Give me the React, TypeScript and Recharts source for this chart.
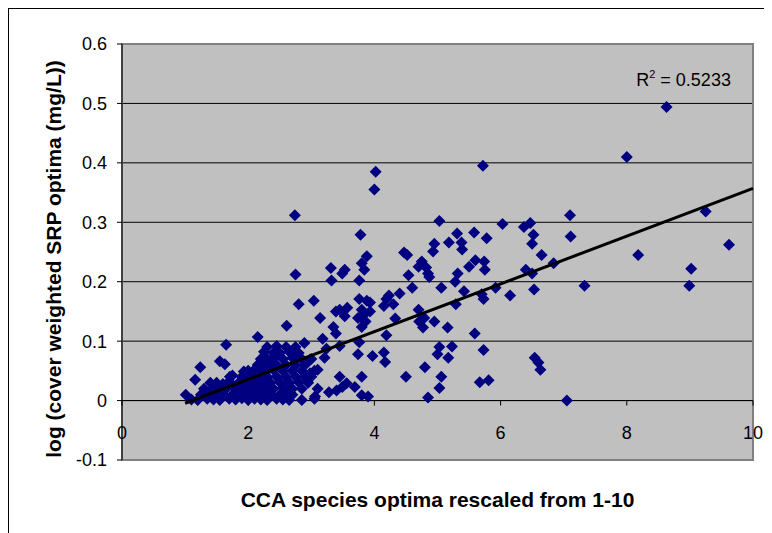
import {
  CartesianGrid,
  Label,
  ReferenceArea,
  ReferenceDot,
  ReferenceLine,
  Scatter,
  ScatterChart,
  XAxis,
  YAxis,
} from "recharts";

// [CCA optimum (1-10), log cover weighted SRP optimum]
const lowCluster: [number, number][] = [
  [1.01, 0.01], [1.1, 0.002], [1.16, 0.035], [1.2, 0.001], [1.24, 0.056], [1.25, 0.01],
  [1.3, 0.02], [1.35, 0.003], [1.4, 0.012], [1.4, 0.03], [1.45, 0.002], [1.45, 0.021],
  [1.5, 0.01], [1.5, 0.03], [1.55, 0.001], [1.55, 0.066], [1.55, 0.02], [1.6, 0.012],
  [1.6, 0.028], [1.63, 0.061], [1.65, 0.094], [1.65, 0.02], [1.7, 0.003], [1.7, 0.032],
  [1.71, 0.04], [1.75, 0.01], [1.75, 0.042], [1.8, 0.002], [1.8, 0.02], [1.85, 0.012],
  [1.85, 0.03], [1.9, 0.004], [1.9, 0.022], [1.9, 0.04], [1.93, 0.049], [1.95, 0.01],
  [1.95, 0.031], [2.0, 0.001], [2.0, 0.02], [2.0, 0.042], [2.0, 0.05], [2.05, 0.011],
  [2.05, 0.029], [2.1, 0.003], [2.1, 0.021], [2.1, 0.04], [2.1, 0.052], [2.15, 0.012],
  [2.15, 0.03], [2.15, 0.06], [2.15, 0.107], [2.2, 0.002], [2.2, 0.02], [2.2, 0.041],
  [2.2, 0.05], [2.2, 0.07], [2.25, 0.01], [2.25, 0.032], [2.25, 0.06], [2.25, 0.082],
  [2.3, 0.001], [2.3, 0.022], [2.3, 0.04], [2.3, 0.05], [2.3, 0.07], [2.3, 0.09],
  [2.35, 0.012], [2.35, 0.03], [2.35, 0.062], [2.4, 0.02], [2.4, 0.052], [2.4, 0.072],
  [2.4, 0.08], [2.45, 0.003], [2.45, 0.04], [2.45, 0.06], [2.45, 0.092], [2.5, 0.01],
  [2.5, 0.031], [2.5, 0.08], [2.55, 0.002], [2.55, 0.021], [2.55, 0.05], [2.55, 0.07],
  [2.6, 0.012], [2.6, 0.04], [2.6, 0.06], [2.6, 0.09], [2.61, 0.126], [2.65, 0.001],
  [2.65, 0.03], [2.65, 0.082], [2.7, 0.01], [2.7, 0.02], [2.7, 0.05], [2.7, 0.072],
  [2.75, 0.04], [2.75, 0.06], [2.75, 0.09], [2.8, 0.031], [2.8, 0.08], [2.85, 0.001],
  [2.85, 0.02], [2.85, 0.05], [2.85, 0.07], [2.89, 0.097], [2.9, 0.04], [2.9, 0.06],
  [2.95, 0.03], [2.98, 0.046], [2.98, 0.069], [3.0, 0.04], [3.0, 0.07], [3.05, 0.05],
  [3.05, 0.003], [3.06, 0.007], [3.1, 0.02], [3.1, 0.052],
];

const midRange: [number, number][] = [
  [2.74, 0.312], [2.75, 0.212], [2.8, 0.162], [3.04, 0.168], [3.14, 0.139], [3.18, 0.104],
  [3.21, 0.072], [3.24, 0.087], [3.28, 0.014], [3.31, 0.223], [3.32, 0.202], [3.35, 0.124],
  [3.39, 0.113], [3.39, 0.15], [3.4, 0.017], [3.45, 0.153], [3.45, 0.092], [3.45, 0.04],
  [3.49, 0.214], [3.49, 0.023], [3.53, 0.22], [3.53, 0.142], [3.56, 0.029], [3.57, 0.156],
  [3.69, 0.023], [3.74, 0.139], [3.74, 0.078], [3.76, 0.098], [3.76, 0.171], [3.76, 0.202],
  [3.78, 0.279], [3.8, 0.124], [3.8, 0.153], [3.8, 0.231], [3.8, 0.04], [3.8, 0.009],
  [3.84, 0.145], [3.84, 0.22], [3.86, 0.133], [3.88, 0.168], [3.88, 0.243], [3.9, 0.007],
  [3.93, 0.15], [3.93, 0.165], [3.97, 0.075], [4.0, 0.355], [4.02, 0.385], [4.15, 0.159],
  [4.15, 0.081], [4.17, 0.065], [4.19, 0.171], [4.19, 0.11], [4.23, 0.177], [4.3, 0.162],
  [4.33, 0.138], [4.4, 0.18], [4.47, 0.249], [4.5, 0.04], [4.52, 0.245], [4.54, 0.211],
  [4.6, 0.19], [4.7, 0.153], [4.7, 0.225], [4.71, 0.133], [4.75, 0.234], [4.77, 0.123],
  [4.79, 0.139], [4.8, 0.056], [4.82, 0.224], [4.85, 0.214], [4.85, 0.005], [4.87, 0.208],
  [4.93, 0.251], [4.95, 0.264], [4.95, 0.133], [5.0, 0.078], [5.03, 0.09], [5.03, 0.302],
  [5.03, 0.021], [5.06, 0.04], [5.06, 0.19], [5.16, 0.123], [5.17, 0.072], [5.18, 0.266],
  [5.23, 0.091], [5.28, 0.2], [5.29, 0.162], [5.31, 0.281], [5.32, 0.214], [5.38, 0.266],
  [5.39, 0.254], [5.42, 0.184], [5.5, 0.225], [5.58, 0.283], [5.59, 0.113], [5.6, 0.236],
  [5.67, 0.031], [5.7, 0.179], [5.72, 0.395], [5.73, 0.171], [5.73, 0.085], [5.74, 0.234],
  [5.75, 0.22], [5.78, 0.273], [5.81, 0.034], [5.92, 0.19], [6.03, 0.297], [6.15, 0.177],
];

const highRange: [number, number][] = [
  [6.37, 0.292], [6.4, 0.22], [6.47, 0.299], [6.5, 0.214], [6.5, 0.264], [6.52, 0.279],
  [6.53, 0.187], [6.54, 0.072], [6.6, 0.064], [6.63, 0.052], [6.65, 0.245], [6.84, 0.231],
  [7.05, 0.0], [7.1, 0.312], [7.11, 0.276], [7.33, 0.193], [8.0, 0.41], [8.18, 0.245],
  [8.63, 0.494], [8.99, 0.193], [9.02, 0.222], [9.25, 0.318], [9.62, 0.262],
];

// linear fit drawn across the axis
const trend = [
  { x: 1.0, y: -0.0045 },
  { x: 10, y: 0.357 },
];
const rSquared = "0.5233";

const xTicks = [0, 2, 4, 6, 8, 10];
const yTicks = [-0.1, 0, 0.1, 0.2, 0.3, 0.4, 0.5, 0.6];

const points = [...lowCluster, ...midRange, ...highRange].map(([x, y]) => ({ x, y }));

const FONT = "'Liberation Sans', Arial, sans-serif";

const Diamond = (props: any) => {
  const { cx, cy } = props;
  const h = 6;
  return (
    <polygon
      points={`${cx},${cy - h} ${cx + h},${cy} ${cx},${cy + h} ${cx - h},${cy}`}
      fill="#000080"
    />
  );
};

// x ticks sit on the zero line, not at the bottom of the plot
const ZeroLineTick = ({ cx, cy, value }: any) => (
  <g>
    <line x1={cx} y1={cy} x2={cx} y2={cy + 5} stroke="#000" />
    <text x={cx} y={cy + 38} textAnchor="middle" fontFamily={FONT} fontSize={18} fill="#000">
      {value}
    </text>
  </g>
);

export default function App() {
  return (
    <div style={{ border: "1px solid #000", width: 766, height: 530, background: "#fff" }}>
      <ScatterChart width={764} height={524} margin={{ top: 35, right: 20, bottom: 0, left: 0 }}>
        <CartesianGrid vertical={false} fill="#C0C0C0" stroke="#000" />
        <XAxis
          type="number"
          dataKey="x"
          domain={[0, 10]}
          ticks={xTicks}
          tick={false}
          axisLine={false}
          tickLine={false}
          height={73}
        >
          <Label
            content={({ viewBox }: any) => (
              <text
                x={viewBox.x + viewBox.width / 2}
                y={viewBox.y + 47}
                textAnchor="middle"
                fontFamily={FONT}
                fontWeight="bold"
                fontSize={21}
                fill="#000"
              >
                CCA species optima rescaled from 1-10
              </text>
            )}
          />
        </XAxis>
        <YAxis
          type="number"
          dataKey="y"
          domain={[-0.1, 0.6]}
          ticks={yTicks}
          width={113}
          allowDataOverflow
          axisLine={{ stroke: "#000" }}
          tickLine={{ stroke: "#000" }}
          tickSize={5}
          tickMargin={10}
          tick={{ fill: "#000", fontSize: 18, fontFamily: FONT }}
          tickFormatter={(v: number) => String(Math.round(v * 10) / 10)}
        >
          <Label
            content={({ viewBox }: any) => {
              const x = 44;
              const y = viewBox.y + 215;
              return (
                <text
                  x={x}
                  y={y}
                  transform={`rotate(-90 ${x} ${y})`}
                  textAnchor="middle"
                  dominantBaseline="central"
                  fontFamily={FONT}
                  fontWeight="bold"
                  fontSize={21}
                  fill="#000"
                >
                  log (cover weighted SRP optima (mg/L))
                </text>
              );
            }}
          />
        </YAxis>
        <ReferenceArea x1={0} x2={10} y1={-0.1} y2={0.6} fill="none" stroke="#808080" strokeWidth={2} />
        <ReferenceLine y={0} stroke="#000" />
        {xTicks.map((t) => (
          <ReferenceDot
            key={t}
            x={t}
            y={0}
            r={0}
            ifOverflow="visible"
            shape={(p: any) => <ZeroLineTick {...p} value={t} />}
          />
        ))}
        <Scatter data={points} shape={Diamond} isAnimationActive={false} />
        <Scatter
          data={trend}
          line={{ stroke: "#000", strokeWidth: 3 }}
          shape={() => <g />}
          isAnimationActive={false}
        />
        <ReferenceDot
          x={9.65}
          y={0.53}
          r={0}
          ifOverflow="visible"
          shape={(p: any) => (
            <text x={p.cx} y={p.cy} textAnchor="end" fontFamily={FONT} fontSize={18} fill="#000">
              R<tspan fontSize={11} dy={-8}>2</tspan>
              <tspan dy={8}>{` = ${rSquared}`}</tspan>
            </text>
          )}
        />
      </ScatterChart>
    </div>
  );
}
